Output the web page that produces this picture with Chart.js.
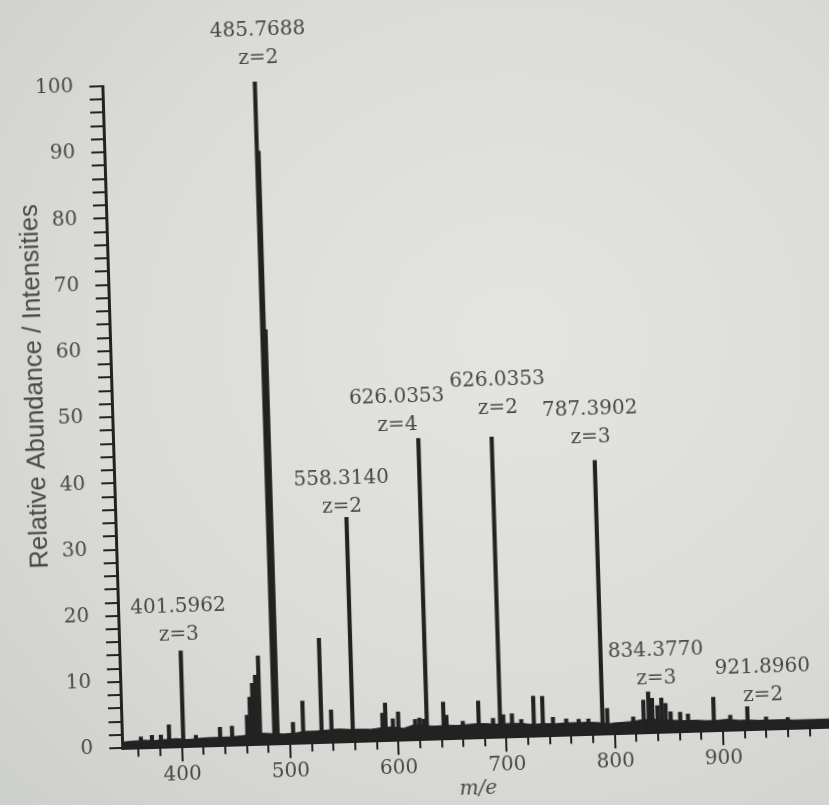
<!DOCTYPE html>
<html>
<head>
<meta charset="utf-8">
<title>Mass spectrum</title>
<script src="https://cdn.jsdelivr.net/npm/chart.js@4.4.1/dist/chart.umd.min.js"></script>
<style>
    html, body { margin: 0; padding: 0; }
    body {
        width: 829px;
        height: 805px;
        overflow: hidden;
        background: radial-gradient(ellipse at 62% 42%, #e4e5e1 0%, #dbdcd8 55%, #cdcfcb 100%);
    }
    #grafico {
        display: block;
        transform: rotate(-1.72deg);
        transform-origin: 50% 50%;
    }
</style>
</head>
<body>
<canvas id="grafico" width="829" height="805"></canvas>
<script>
// peaks (m/e, relative abundance)
const peakMz = [362.5, 372.7, 381.0, 388.6, 401.6, 413.3, 435.7, 446.8, 460.9, 463.8,
    466.5, 469.5, 472.7, 485.8, 487.3, 488.8, 503.2, 512.5, 529.5, 538.7,
    558.3, 585.9, 588.7, 595.5, 600.5, 616.0, 620.0, 624.0, 626.8, 642.3,
    645.0, 660.0, 674.7, 688.0, 694.5, 697.5, 705.5, 714.0, 725.6, 733.9,
    743.3, 755.5, 767.0, 776.0, 789.0, 793.5, 817.4, 827.1, 831.8, 835.2,
    840.0, 843.8, 847.5, 852.0, 860.8, 868.0, 891.8, 907.0, 922.9, 940.0, 960.0];
const peakIntensity = [1.6, 1.8, 1.8, 3.3, 14.4, 1.6, 2.7, 2.8, 4.4, 7.1,
    9.2, 10.4, 13.3, 100, 89.5, 62.5, 3.1, 6.3, 15.7, 4.8,
    33.8, 4.1, 5.6, 3.2, 4.2, 3.0, 3.2, 3.0, 45.4, 5.5,
    3.5, 2.5, 5.5, 2.8, 45.3, 3.3, 3.4, 2.5, 6.0, 5.9,
    2.7, 2.4, 2.3, 2.3, 41.3, 3.8, 2.4, 4.9, 6.1, 5.1,
    4.0, 5.1, 4.3, 3.0, 2.9, 2.6, 5.0, 2.2, 3.4, 1.8, 1.6];

// baseline noise
const noiseMz = [345, 355, 365, 375, 385, 395, 405, 415, 425, 435, 445, 455,
    465, 475, 485, 495, 505, 515, 525, 535, 545, 555,
    565, 575, 585, 595, 605, 615, 625, 635, 645, 655,
    665, 675, 685, 695, 705, 715, 725, 735, 745, 755,
    765, 775, 785, 795, 805, 815, 825, 835, 845, 855,
    865, 875, 885, 895, 905, 915, 925, 935, 945, 955, 965, 975, 985, 995, 1000];
const noiseIntensity = [0.9, 1.0, 1.1, 1.0, 1.1, 1.2, 1.0, 1.1, 1.2, 1.2, 1.2, 1.3,
    1.5, 1.6, 1.5, 1.4, 1.5, 1.7, 1.7, 1.8, 1.9, 1.8,
    1.8, 1.7, 1.9, 2.0, 1.7, 2.2, 2.0, 1.9, 2.0, 1.9,
    2.0, 2.1, 2.0, 1.9, 2.0, 1.9, 1.7, 1.8, 1.7, 1.8,
    1.8, 1.8, 1.7, 1.5, 1.6, 1.7, 1.9, 2.0, 1.8, 1.7,
    1.6, 1.6, 1.5, 1.5, 1.6, 1.4, 1.4, 1.3, 1.3, 1.3, 1.2, 1.2, 1.2, 1.2, 1.2];

// peak annotations (anchor of the "z=" line, in m/e and abundance)
const labelMass = ['401.5962', '485.7688', '558.3140', '626.0353', '626.0353', '787.3902', '834.3770', '921.8960'];
const labelCharge = ['z=3', 'z=2', 'z=2', 'z=4', 'z=2', 'z=3', 'z=3', 'z=2'];
const labelMz = [400.4, 489.8, 554.5, 608.0, 701.1, 785.8, 839.9, 938.0];
const labelLevel = [16.8, 103.5, 35.4, 47.5, 49.6, 44.7, 8.1, 5.1];

const xTitle = 'm/e';
const yTitle = 'Relative Abundance / Intensities';
const xMin = 345, xMax = 1000;

const INK = '#222222';
const TEXT = '#474747';
const SERIF = '"DejaVu Serif", "Liberation Serif", serif';

document.addEventListener('DOMContentLoaded', () => {
    initChart();
});

const peakLabels = {
    id: 'peakLabels',
    afterDatasetsDraw(chart) {
        const { ctx, chartArea, scales: { x, y } } = chart;
        ctx.save();
        ctx.fillStyle = TEXT;
        ctx.textAlign = 'center';
        ctx.textBaseline = 'middle';
        ctx.font = '20px ' + SERIF;
        labelMz.forEach((mz, i) => {
            const px = x.getPixelForValue(mz);
            const py = y.getPixelForValue(labelLevel[i]);
            ctx.fillText(labelMass[i], px, py - 28);
            ctx.fillText(labelCharge[i], px, py);
        });

        // y axis title, sits a bit above the middle of the axis
        ctx.font = '25.5px "Liberation Sans", Arial, sans-serif';
        ctx.translate(chartArea.left - 76, y.getPixelForValue(55));
        ctx.rotate(-Math.PI / 2);
        ctx.fillText(yTitle, 0, 0);
        ctx.restore();
    }
};

function initChart() {
    const ctx = document.getElementById('grafico').getContext('2d');
    const chart = new Chart(ctx, {
        type: 'bar',
        data: {
            datasets: [{
                type: 'bar',
                label: 'peaks',
                data: peakMz.map((mz, i) => ({ x: mz, y: peakIntensity[i] })),
                backgroundColor: INK,
                barThickness: 3.5,
                order: 1
            }, {
                type: 'line',
                label: 'noise',
                data: noiseMz.map((mz, i) => ({ x: mz, y: noiseIntensity[i] })),
                borderColor: INK,
                backgroundColor: INK,
                borderWidth: 1,
                pointRadius: 0,
                tension: 0,
                fill: 'origin',
                order: 2
            }]
        },
        options: {
            responsive: false,
            animation: false,
            layout: {
                padding: { left: 0, top: 77, right: 7.6, bottom: 0 }
            },
            plugins: {
                legend: { display: false },
                tooltip: { enabled: false }
            },
            scales: {
                x: {
                    type: 'linear',
                    min: xMin,
                    max: xMax,
                    offset: false,
                    weight: 0,
                    afterFit: (s) => { s.height = 0; },
                    ticks: {
                        stepSize: 20,
                        autoSkip: false,
                        includeBounds: false,
                        callback: () => ''
                    },
                    grid: {
                        offset: false,
                        drawOnChartArea: false,
                        tickLength: 9,
                        lineWidth: 2,
                        color: INK
                    },
                    border: { color: INK, width: 3 }
                },
                x2: {
                    type: 'linear',
                    position: 'bottom',
                    min: xMin,
                    max: xMax,
                    offset: false,
                    weight: 1,
                    afterFit: (s) => { s.height = 65.8; },
                    ticks: {
                        stepSize: 100,
                        autoSkip: false,
                        includeBounds: false,
                        padding: 2,
                        color: TEXT,
                        font: { family: SERIF, size: 20 },
                        callback: (v) => (v <= 900 ? v : '')
                    },
                    grid: {
                        offset: false,
                        drawOnChartArea: false,
                        tickLength: 15,
                        lineWidth: 2,
                        color: INK
                    },
                    border: { display: false },
                    title: {
                        display: true,
                        text: xTitle,
                        color: TEXT,
                        font: { family: SERIF, size: 20, style: 'italic' },
                        padding: { top: 0, bottom: 2 }
                    }
                },
                y: {
                    min: 0,
                    max: 100,
                    afterFit: (s) => { s.width = 112; },
                    ticks: {
                        stepSize: 2,
                        autoSkip: false,
                        padding: 16,
                        color: TEXT,
                        font: { family: SERIF, size: 20 },
                        callback: (v) => (v % 10 === 0 ? v : '')
                    },
                    grid: {
                        drawOnChartArea: false,
                        tickLength: 13,
                        lineWidth: 2,
                        color: INK
                    },
                    border: { color: INK, width: 3 }
                }
            }
        },
        plugins: [peakLabels]
    });

    window.spectrumChart = chart;
}
</script>
</body>
</html>
